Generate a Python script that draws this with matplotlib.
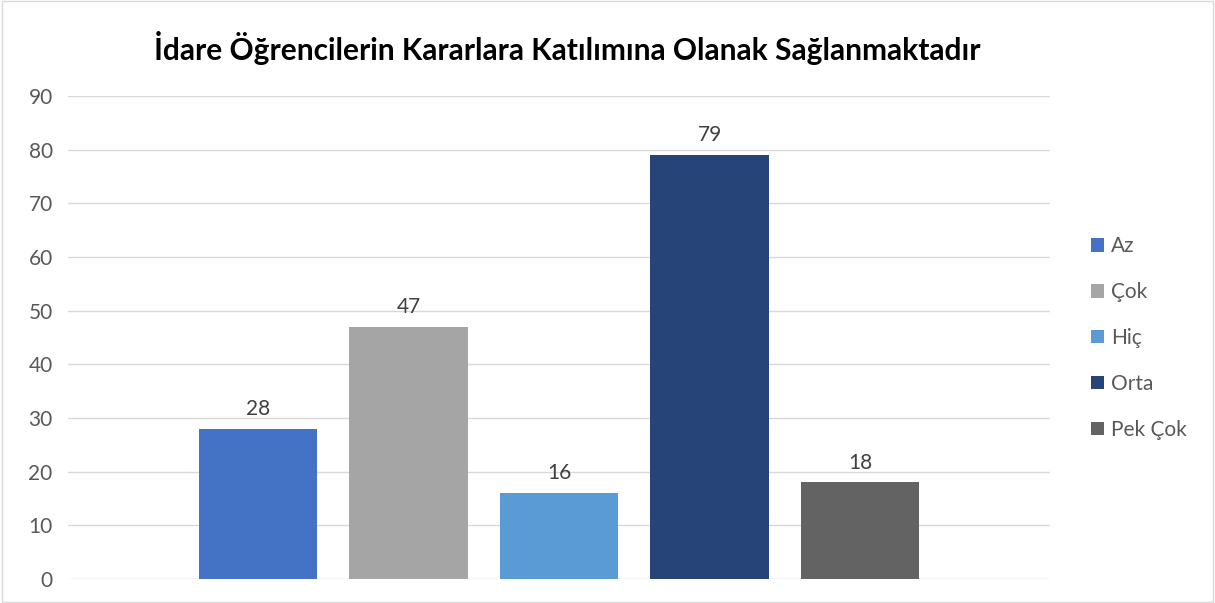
import matplotlib
matplotlib.use('Agg')
from matplotlib import pyplot as plt
from matplotlib.patches import Patch, Rectangle
import numpy as np

plt.rcParams['font.family'] = ['Lato', 'DejaVu Sans']

# Answers and counts
categories = ['Az', 'Çok', 'Hiç', 'Orta', 'Pek Çok']
counts = [28, 47, 16, 79, 18]
colors = ['#4472C4', '#A5A5A5', '#5B9BD5', '#264478', '#636363']
title = 'İdare Öğrencilerin Kararlara Katılımına Olanak Sağlanmaktadır'

W, H = 1215, 603
fig = plt.figure(figsize=(W / 100, H / 100), dpi=100)
ax = fig.add_axes([68 / W, 24 / H, (1050 - 68) / W, (579 - 96) / H])

x_indexes = np.arange(len(categories))
bars = ax.bar(x_indexes, counts, width=0.79, color=colors, zorder=3)
ax.bar_label(bars, padding=7, fontsize=15, color='#404040')

ax.set_ylim(0, 90)
ax.set_yticks(range(0, 91, 10))
ax.set_xlim(-1.262, len(categories) - 1 + 1.262)
ax.set_xticks([])
ax.grid(axis='y', color='#d9d9d9', linewidth=1, zorder=0)
ax.tick_params(axis='y', length=0, pad=11, labelsize=15, labelcolor='#595959')
for s in ax.spines.values():
    s.set_visible(False)

fig.text(567 / W, 1 - 48 / H, title, ha='center', va='center',
         fontsize=21.5, fontweight='bold', color='#000000')

handles = [Patch(facecolor=c, edgecolor='none') for c in colors]
fig.legend(handles, categories, loc='center left',
           bbox_to_anchor=(1091 / W, 1 - 338 / H), frameon=False,
           fontsize=15, labelcolor='#595959', handlelength=0.62, handleheight=0.62,
           handletextpad=0.35, labelspacing=1.24, borderpad=0, borderaxespad=0)

fig.patches.append(Rectangle((0.002, 0.002), 0.996, 0.996, transform=fig.transFigure,
                             fill=False, edgecolor='#d9d9d9', linewidth=1))

fig.savefig('out.png', dpi=100)
